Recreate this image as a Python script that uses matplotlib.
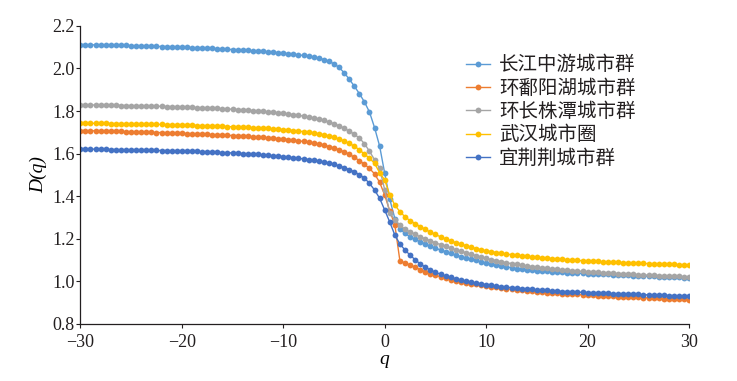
import numpy as np
import matplotlib
matplotlib.use("Agg")
import matplotlib.pyplot as plt

q = np.arange(-30, 30.5, 0.5)

labels = ["长江中游城市群", "环鄱阳湖城市群", "环长株潭城市群", "武汉城市圈", "宜荆荆城市群"]
colors = ["#5B9BD5", "#ED7D31", "#A5A5A5", "#FFC000", "#4472C4"]

d_changjiang = [
    2.112, 2.112, 2.111, 2.111, 2.110, 2.110, 2.109, 2.109, 2.108, 2.108,
    2.107, 2.107, 2.106, 2.105, 2.105, 2.104, 2.103, 2.103, 2.102, 2.101,
    2.100, 2.099, 2.098, 2.097, 2.096, 2.095, 2.094, 2.093, 2.092, 2.090,
    2.089, 2.088, 2.086, 2.085, 2.083, 2.081, 2.080, 2.078, 2.076, 2.074,
    2.072,
    2.069, 2.067, 2.064, 2.061, 2.057, 2.053, 2.048, 2.042, 2.033, 2.022,
    2.005, 1.980, 1.950, 1.917,
    1.882, 1.843, 1.795, 1.722, 1.635, 1.507, 1.385, 1.295, 1.246, 1.225, 1.209,
    1.197, 1.186, 1.175, 1.165, 1.156, 1.147, 1.139, 1.131, 1.123, 1.116,
    1.110, 1.104, 1.098, 1.092, 1.086, 1.081, 1.076, 1.072, 1.068, 1.064,
    1.060, 1.057, 1.055, 1.052, 1.050, 1.048, 1.046, 1.045, 1.043, 1.042,
    1.040, 1.039, 1.038, 1.037, 1.036, 1.035, 1.034, 1.033, 1.032, 1.031,
    1.030, 1.029, 1.028, 1.027, 1.026, 1.025, 1.024, 1.023, 1.022, 1.021,
    1.020, 1.019, 1.018, 1.017, 1.016,
]

d_poyang = [
    1.708, 1.708, 1.707, 1.707, 1.706, 1.706, 1.705, 1.705, 1.704, 1.703,
    1.703, 1.702, 1.701, 1.701, 1.700, 1.699, 1.699, 1.698, 1.697, 1.696,
    1.695, 1.694, 1.693, 1.692, 1.691, 1.690, 1.689, 1.688, 1.687, 1.686,
    1.685, 1.684, 1.682, 1.681, 1.679, 1.678, 1.676, 1.674, 1.672, 1.670,
    1.668,
    1.666, 1.663, 1.660, 1.657, 1.653, 1.649, 1.645, 1.640, 1.633, 1.626,
    1.618, 1.608, 1.597, 1.583,
    1.567, 1.550, 1.530, 1.505, 1.465, 1.405, 1.330, 1.265, 1.095, 1.086, 1.076,
    1.066, 1.055, 1.045, 1.036, 1.028, 1.021, 1.014, 1.008, 1.003, 0.998,
    0.993, 0.989, 0.985, 0.981, 0.977, 0.974, 0.971, 0.968, 0.965, 0.962,
    0.960, 0.957, 0.955, 0.953, 0.951, 0.949, 0.947, 0.945, 0.944, 0.942,
    0.941, 0.939, 0.938, 0.936, 0.935, 0.934, 0.932, 0.931, 0.930, 0.929,
    0.928, 0.927, 0.926, 0.925, 0.924, 0.923, 0.922, 0.921, 0.920, 0.919,
    0.918, 0.917, 0.916, 0.915, 0.914,
]

d_changzhutan = [
    1.829, 1.829, 1.829, 1.828, 1.828, 1.828, 1.827, 1.827, 1.826, 1.826,
    1.825, 1.825, 1.824, 1.824, 1.823, 1.823, 1.822, 1.821, 1.821, 1.820,
    1.819, 1.818, 1.817, 1.816, 1.815, 1.814, 1.813, 1.812, 1.811, 1.810,
    1.808, 1.807, 1.805, 1.804, 1.802, 1.800, 1.798, 1.796, 1.794, 1.792,
    1.789,
    1.786, 1.783, 1.780, 1.776, 1.772, 1.767, 1.762, 1.756, 1.748, 1.740,
    1.730, 1.719, 1.706, 1.691,
    1.673, 1.647, 1.611, 1.571, 1.530, 1.430, 1.320, 1.290, 1.264, 1.245, 1.232,
    1.220, 1.209, 1.199, 1.190, 1.181, 1.172, 1.164, 1.156, 1.148, 1.141,
    1.134, 1.127, 1.120, 1.114, 1.108, 1.102, 1.097, 1.092, 1.087, 1.083,
    1.079, 1.075, 1.072, 1.069, 1.066, 1.063, 1.061, 1.058, 1.056, 1.054,
    1.052, 1.050, 1.048, 1.047, 1.045, 1.043, 1.042, 1.040, 1.039, 1.037,
    1.036, 1.035, 1.034, 1.032, 1.031, 1.030, 1.029, 1.028, 1.027, 1.026,
    1.025, 1.024, 1.023, 1.022, 1.021,
]

d_wuhan = [
    1.743, 1.743, 1.743, 1.742, 1.742, 1.742, 1.741, 1.741, 1.741, 1.740,
    1.740, 1.739, 1.739, 1.738, 1.738, 1.737, 1.737, 1.736, 1.736, 1.735,
    1.734, 1.734, 1.733, 1.732, 1.731, 1.731, 1.730, 1.729, 1.728, 1.727,
    1.726, 1.725, 1.724, 1.723, 1.722, 1.721, 1.719, 1.718, 1.716, 1.715,
    1.713,
    1.711, 1.708, 1.706, 1.703, 1.700, 1.697, 1.693, 1.688, 1.682, 1.676,
    1.668, 1.659, 1.648, 1.635,
    1.618, 1.598, 1.578, 1.554, 1.510, 1.476, 1.405, 1.358, 1.327, 1.303, 1.285,
    1.271, 1.257, 1.244, 1.231, 1.220, 1.209, 1.199, 1.190, 1.181, 1.174,
    1.167, 1.160, 1.154, 1.148, 1.143, 1.139, 1.135, 1.131, 1.128, 1.125,
    1.122, 1.120, 1.117, 1.115, 1.113, 1.111, 1.109, 1.107, 1.105, 1.103,
    1.101, 1.100, 1.098, 1.097, 1.095, 1.094, 1.093, 1.092, 1.091, 1.090,
    1.089, 1.088, 1.087, 1.086, 1.085, 1.084, 1.083, 1.082, 1.081, 1.080,
    1.080, 1.079, 1.078, 1.078, 1.077,
]

d_yijingjing = [
    1.622, 1.622, 1.621, 1.621, 1.620, 1.620, 1.619, 1.619, 1.618, 1.618,
    1.617, 1.617, 1.616, 1.616, 1.615, 1.615, 1.614, 1.614, 1.613, 1.612,
    1.612, 1.611, 1.610, 1.610, 1.609, 1.608, 1.607, 1.606, 1.605, 1.604,
    1.603, 1.602, 1.600, 1.599, 1.597, 1.596, 1.594, 1.592, 1.590, 1.588,
    1.586,
    1.583, 1.581, 1.578, 1.575, 1.572, 1.568, 1.564, 1.560, 1.555, 1.549,
    1.542, 1.534, 1.525, 1.514,
    1.501, 1.485, 1.460, 1.429, 1.390, 1.335, 1.278, 1.217, 1.175, 1.147, 1.123,
    1.101, 1.082, 1.066, 1.053, 1.042, 1.033, 1.025, 1.018, 1.012, 1.006,
    1.001, 0.996, 0.992, 0.988, 0.984, 0.981, 0.978, 0.975, 0.973, 0.970,
    0.968, 0.966, 0.964, 0.962, 0.960, 0.958, 0.957, 0.955, 0.954, 0.952,
    0.951, 0.950, 0.949, 0.948, 0.947, 0.946, 0.945, 0.944, 0.943, 0.942,
    0.941, 0.940, 0.939, 0.939, 0.938, 0.937, 0.936, 0.936, 0.935, 0.934,
    0.933, 0.933, 0.932, 0.931, 0.931,
]

series = [d_changjiang, d_poyang, d_changzhutan, d_wuhan, d_yijingjing]

xticks = [-30, -20, -10, 0, 10, 20, 30]
yticks = [0.8, 1.0, 1.2, 1.4, 1.6, 1.8, 2.0, 2.2]

plt.rcParams['font.family'] = ['Liberation Serif', 'Noto Sans CJK SC', 'DejaVu Sans']
plt.rcParams['axes.unicode_minus'] = True

fig = plt.figure(figsize=(7.37, 3.81), dpi=100)
ax = fig.add_axes([0.109, 0.150, 0.826, 0.782])

for vals, lab, col in zip(series, labels, colors):
    n = min(len(q), len(vals))
    ax.plot(q[:n], vals[:n], color=col, lw=1.0, marker='o', markersize=4.2,
            markeredgewidth=0, label=lab)

ax.set_xlim(-30, 30)
ax.set_ylim(0.8, 2.2)
ax.set_xticks(xticks)
ax.set_yticks(yticks)
ax.set_xticklabels([("\u2212%d" % -t) if t < 0 else "%d" % t for t in xticks])
ax.set_yticklabels(["%.1f" % t for t in yticks])
ax.tick_params(axis='both', direction='out', length=3, width=0.8, labelsize=13, colors='#231f20')
ax.tick_params(axis='x', pad=4)
ax.tick_params(axis='y', pad=1)
for s in ['top', 'right']:
    ax.spines[s].set_visible(False)
for s in ['left', 'bottom']:
    ax.spines[s].set_linewidth(0.9)
    ax.spines[s].set_color('#231f20')

ax.set_xlabel("q", fontsize=14, style='italic', labelpad=0)
ax.set_ylabel("D(q)", fontsize=14, style='italic', labelpad=4)

leg = fig.legend(loc='upper left', bbox_to_anchor=(0.632, 0.857), frameon=False,
                 prop={'family': ['Noto Sans CJK SC'], 'size': 14},
                 handlelength=1.25, handletextpad=0.45, labelspacing=0.12,
                 borderpad=0, borderaxespad=0)
for t in leg.get_texts():
    t.set_color('#231f20')

fig.savefig("out.png", dpi=100)
